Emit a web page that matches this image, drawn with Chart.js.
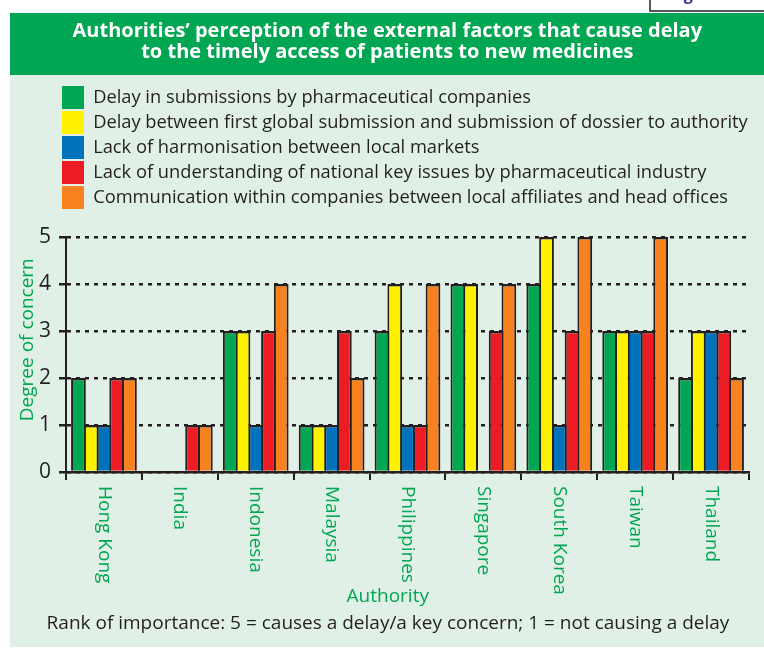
<!DOCTYPE html>
<html>
<head>
<meta charset="utf-8">
<script src="https://cdn.jsdelivr.net/npm/chart.js@4"></script>
<style>
  html, body { margin: 0; padding: 0; background: #fff; }
</style>
</head>
<body>
<canvas id="myChart" width="764" height="648"></canvas>
<script>
// data (degree of concern, 0-5)
var authorities = ['Hong Kong', 'India', 'Indonesia', 'Malaysia', 'Philippines', 'Singapore', 'South Korea', 'Taiwan', 'Thailand'];
var delaySubmissions  = [2, 0, 3, 1, 3, 4, 4, 3, 2];
var delayGlobal       = [1, 0, 3, 1, 4, 4, 5, 3, 3];
var lackHarmonisation = [1, 0, 1, 1, 1, 0, 1, 3, 3];
var lackUnderstanding = [2, 1, 3, 3, 1, 3, 3, 3, 3];
var communication     = [2, 1, 4, 2, 4, 4, 5, 5, 2];
var yTicks = [0, 1, 2, 3, 4, 5];

// leading spaces nudge the heading to the middle of the panel
var titleLines = ['   Authorities\u2019 perception of the external factors that cause delay',
                  '   to the timely access of patients to new medicines'];
var note = 'Rank of importance: 5 = causes a delay/a key concern; 1 = not causing a delay';

var GREEN = '#00a651';
var INK = '#231f20';
var BG = '#e1f0e6';

Chart.defaults.font.family = "'Open Sans', sans-serif";

var barBorder = {top: 2.5, left: 2, right: 2, bottom: 0};

function makeSet(label, data, color) {
  return {
    label: label,
    data: data,
    backgroundColor: color,
    borderColor: INK,
    borderWidth: barBorder,
    categoryPercentage: 0.84,
    barPercentage: 1.157
  };
}

var decor = {
  id: 'decor',
  beforeDraw: function(chart) {
    var ctx = chart.ctx;
    ctx.save();
    ctx.fillStyle = BG;
    ctx.fillRect(10, 13, 754, 634);
    ctx.fillStyle = GREEN;
    ctx.fillRect(10, 13, 754, 62);
    ctx.restore();
    // legend sits indented, in line with the plot, and may run to the panel edge
    if (chart.legend) {
      chart.legend.left = 60;
      chart.legend.right = 764;
      chart.legend.width = 704;
    }
  },
  afterDraw: function(chart) {
    var ctx = chart.ctx;
    var xs = chart.scales.x;
    ctx.save();
    // country names, reading top to bottom
    ctx.font = '19px "Open Sans"';
    ctx.fillStyle = GREEN;
    ctx.textAlign = 'left';
    ctx.textBaseline = 'middle';
    chart.data.labels.forEach(function(name, i) {
      ctx.save();
      ctx.translate(xs.getPixelForValue(i), xs.top + 14);
      ctx.rotate(Math.PI / 2);
      ctx.fillText(name, 0, 0);
      ctx.restore();
    });
    // footnote
    ctx.font = '19px "Open Sans"';
    ctx.fillStyle = INK;
    ctx.textAlign = 'center';
    ctx.fillText(note, 388, 624);
    // cut-off figure tab at the top right
    ctx.fillStyle = '#fff';
    ctx.fillRect(650, -2, 120, 13);
    ctx.strokeStyle = INK;
    ctx.lineWidth = 1.5;
    ctx.strokeRect(650, -2, 120, 13);
    ctx.beginPath();
    ctx.rect(651, 0, 112, 10);
    ctx.clip();
    ctx.font = 'bold 16px "Open Sans"';
    ctx.fillStyle = '#2e3192';
    ctx.textAlign = 'left';
    ctx.textBaseline = 'alphabetic';
    ctx.fillText('Figure 5', 670, 0);
    ctx.restore();
  }
};

var ctx = document.getElementById('myChart').getContext('2d');
var myChart = new Chart(ctx, {
  type: 'bar',
  data: {
    labels: authorities,
    datasets: [
      makeSet('Delay in submissions by pharmaceutical companies', delaySubmissions, '#00a651'),
      makeSet('Delay between first global submission and submission of dossier to authority', delayGlobal, '#fff200'),
      makeSet('Lack of harmonisation between local markets', lackHarmonisation, '#0072bc'),
      makeSet('Lack of understanding of national key issues by pharmaceutical industry', lackUnderstanding, '#ed1c24'),
      makeSet('Communication within companies between local affiliates and head offices', communication, '#f7821f')
    ]
  },
  options: {
    responsive: false,
    animation: false,
    layout: {
      padding: {top: 13, left: 10, right: 15, bottom: 40}
    },
    plugins: {
      tooltip: {enabled: false},
      title: {
        display: true,
        weight: 3000,
        text: titleLines,
        color: '#ffffff',
        font: {size: 20, weight: 'bold', lineHeight: 1.05},
        padding: {top: 7.5, bottom: 21.5}
      },
      legend: {
        display: true,
        position: 'top',
        align: 'start',
        weight: 2000,
        labels: {
          boxWidth: 22,
          boxHeight: 23,
          padding: 2,
          color: INK,
          font: {size: 18.3},
          generateLabels: function(chart) {
            var items = Chart.defaults.plugins.legend.labels.generateLabels(chart);
            items.forEach(function(it) { it.lineWidth = 0; it.strokeStyle = 'rgba(0,0,0,0)'; });
            return items;
          }
        }
      },
      subtitle: {
        display: true,
        position: 'top',
        weight: 1500,
        text: ' ',
        font: {size: 10, lineHeight: 1},
        padding: {top: 4, bottom: 4}
      }
    },
    scales: {
      x: {
        grid: {
          display: true,
          drawOnChartArea: false,
          drawTicks: true,
          tickLength: 8,
          lineWidth: 2,
          color: INK,
          offset: true
        },
        border: {display: true, color: INK, width: 2.5},
        ticks: {display: false},
        title: {
          display: true,
          text: 'Authority        ',
          color: GREEN,
          font: {size: 19, lineHeight: 1.2},
          padding: 0
        },
        afterFit: function(scale) { scale.height = 136; }
      },
      y: {
        min: 0,
        max: 5,
        afterBuildTicks: function(scale) {
          scale.ticks = yTicks.map(function(v) { return {value: v}; });
        },
        grid: {
          color: INK,
          lineWidth: 2.5,
          tickLength: 7,
          drawTicks: true
        },
        border: {display: true, color: INK, width: 2, dash: [4, 5]},
        ticks: {
          color: INK,
          font: {size: 21},
          padding: 8
        },
        title: {
          display: true,
          text: '      Degree of concern',
          color: GREEN,
          font: {size: 19, lineHeight: 1.2},
          padding: {top: 6.5, bottom: 0}
        },
        afterFit: function(scale) { scale.width = 56; }
      }
    }
  },
  plugins: [decor]
});
</script>
</body>
</html>
